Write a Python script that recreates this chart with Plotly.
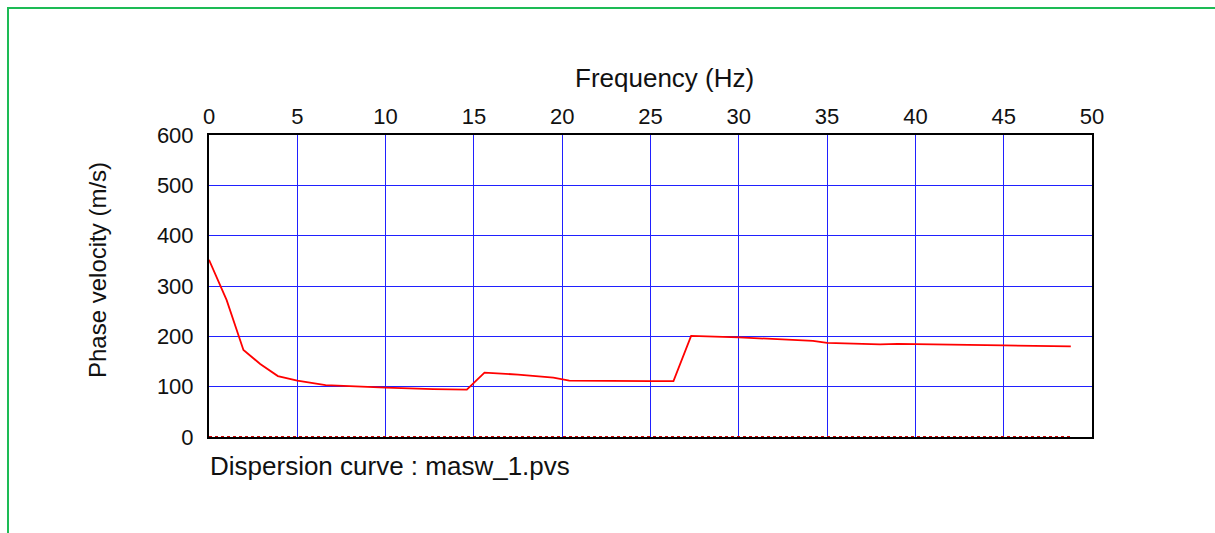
import plotly.graph_objects as go

# Dispersion curve data (frequency in Hz, phase velocity in m/s)
freq = [0, 1.0, 1.95, 2.9, 3.9, 5.0, 6.6, 8.7, 10.0, 12.7, 14.6, 15.6, 17.5, 19.5,
        20.4, 25.0, 26.3, 27.3, 30.0, 34.2, 35.0, 38.0, 39.0, 45.0, 48.8]
velocity = [352, 272, 173, 145, 121, 112, 103, 99, 98, 95, 94, 128, 124, 118,
            112, 111, 111, 201, 198, 191, 187, 184, 185, 182, 180]
zero_line = [0 for _ in freq]

x_ticks = [0, 5, 10, 15, 20, 25, 30, 35, 40, 45, 50]
y_ticks = [0, 100, 200, 300, 400, 500, 600]

W, H = 1215, 533
L, R, T, B = 209, 123, 135, 96
pw, ph = W - L - R, H - T - B

FONT = "Liberation Sans, Arial, sans-serif"
TXT = "#111111"

fig = go.Figure()
fig.add_trace(go.Scatter(x=freq, y=velocity, mode="lines",
                         line=dict(color="#ff0000", width=1.8), showlegend=False))
fig.add_trace(go.Scatter(x=freq, y=zero_line, mode="lines",
                         line=dict(color="#cc0000", width=2, dash="dot"),
                         showlegend=False, cliponaxis=False))


def px_x(p):
    return (p - L) / pw


def px_y(p):
    return (H - B - p) / ph


fig.add_shape(type="rect", xref="paper", yref="paper",
              x0=px_x(8), x1=px_x(1230), y0=px_y(8), y1=px_y(560),
              line=dict(color="#1dbb55", width=2), fillcolor="rgba(0,0,0,0)",
              layer="below")

fig.add_annotation(text="Frequency (Hz)", xref="paper", yref="paper",
                   x=px_x(664), y=px_y(78), xanchor="center", yanchor="middle",
                   showarrow=False, font=dict(family=FONT, size=26, color=TXT))
fig.add_annotation(text="Phase velocity (m/s)", xref="paper", yref="paper",
                   x=px_x(97), y=px_y(270), xanchor="center", yanchor="middle",
                   textangle=-90, showarrow=False,
                   font=dict(family=FONT, size=24, color=TXT))
fig.add_annotation(text="Dispersion curve : masw_1.pvs", xref="paper", yref="paper",
                   x=px_x(208), y=px_y(466), xanchor="left", yanchor="middle",
                   showarrow=False, font=dict(family=FONT, size=26, color=TXT))

fig.update_layout(
    width=W, height=H,
    margin=dict(l=L, r=R, t=T, b=B, pad=0),
    paper_bgcolor="white", plot_bgcolor="white",
    font=dict(family=FONT, size=22, color=TXT),
    xaxis=dict(range=[0, 50], side="top", tickvals=x_ticks,
               ticktext=[str(v) for v in x_ticks],
               showgrid=True, gridcolor="#2020ff", gridwidth=1,
               showline=True, linecolor="black", linewidth=2, mirror=True,
               zeroline=False, ticks="", ticklen=0, ticklabelstandoff=0),
    yaxis=dict(range=[0, 600], tickvals=y_ticks,
               ticktext=[str(v) for v in y_ticks],
               showgrid=True, gridcolor="#2020ff", gridwidth=1,
               showline=True, linecolor="black", linewidth=2, mirror=True,
               zeroline=False, ticks="", ticklen=0, ticklabelstandoff=9),
)

fig.write_html("out.html")
